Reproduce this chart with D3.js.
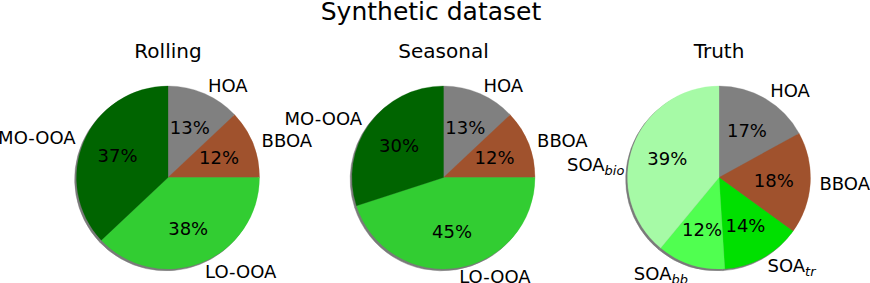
<!DOCTYPE html>
<html>
<head>
<meta charset="utf-8">
<script src="https://cdn.jsdelivr.net/npm/d3@7"></script>
<style>
  html, body { margin: 0; padding: 0; background: #fff; }
  svg { display: block; font-family: "DejaVu Sans", sans-serif; }
</style>
</head>
<body>
<svg id="chart" width="870" height="283"></svg>
<script>
const figTitle = "Synthetic dataset";
const pieTitles = ["Rolling", "Seasonal", "Truth"];

const rollingLabels = ["HOA", "BBOA", "LO-OOA", "MO-OOA"];
const rollingValues = [13, 12, 38, 37];
const seasonalLabels = ["HOA", "BBOA", "LO-OOA", "MO-OOA"];
const seasonalValues = [13, 12, 45, 30];
const truthLabels = ["HOA", "BBOA", "SOA_tr", "SOA_bb", "SOA_bio"];
const truthValues = [17, 18, 14, 12, 39];

const factorColors = {
  "HOA": "#808080",
  "BBOA": "#a0522d",
  "LO-OOA": "#32cd32",
  "MO-OOA": "#006400",
  "SOA_tr": "#00e000",
  "SOA_bb": "#50ff50",
  "SOA_bio": "#a6faa6"
};

const panels = [
  { title: pieTitles[0], labels: rollingLabels, values: rollingValues },
  { title: pieTitles[1], labels: seasonalLabels, values: seasonalValues },
  { title: pieTitles[2], labels: truthLabels, values: truthValues }
];

const svg = d3.select("#chart");
const R = 91.5;
const cy = 177.5;
const cxScale = d3.scalePoint().domain(d3.range(panels.length)).range([168, 719]);
const labelFont = 18;

svg.append("text")
  .attr("x", 431).attr("y", 19.5)
  .attr("text-anchor", "middle")
  .attr("font-size", 25)
  .attr("fill", "#000")
  .text(figTitle);

const pie = d3.pie().sort(null).startAngle(0).endAngle(2 * Math.PI).value(d => d.v);
const arc = d3.arc().innerRadius(0).outerRadius(R);

function addLabel(g, name, x, y, anchor) {
  const t = g.append("text")
    .attr("x", x).attr("y", y)
    .attr("dy", "0.36em")
    .attr("text-anchor", anchor)
    .attr("font-size", labelFont)
    .attr("fill", "#000");
  const parts = name.split("_");
  t.append("tspan").text(parts[0]);
  if (parts.length > 1) {
    t.append("tspan")
      .attr("font-size", labelFont * 0.72)
      .attr("font-style", "italic")
      .attr("dy", "0.3em")
      .text(parts[1]);
  }
}

panels.forEach((p, i) => {
  const cx = cxScale(i);
  const data = p.labels.map((l, j) => ({ l, v: p.values[j] }));
  const arcs = pie(data);
  const total = d3.sum(p.values);

  svg.append("text")
    .attr("x", cx).attr("y", 57.5)
    .attr("text-anchor", "middle")
    .attr("font-size", 20)
    .attr("fill", "#000")
    .text(p.title);

  const g = svg.append("g").attr("transform", `translate(${cx},${cy})`);

  // shadow
  g.append("g").attr("transform", "translate(-1.8,1.8)")
    .selectAll("path").data(arcs).join("path")
    .attr("d", arc)
    .attr("fill", "#7a7a7a")
    .attr("stroke", "#7a7a7a")
    .attr("stroke-width", 0.5);

  g.append("g").selectAll("path").data(arcs).join("path")
    .attr("d", arc)
    .attr("fill", d => factorColors[d.data.l])
    .attr("stroke", d => factorColors[d.data.l])
    .attr("stroke-width", 0.3);

  arcs.forEach(a => {
    const mid = (a.startAngle + a.endAngle) / 2;
    const sx = Math.sin(mid), sy = -Math.cos(mid);
    // outside label (the biogenic SOA label sits lower in the original, clear of its neighbour)
    const lx = sx * R * 1.1;
    const ly = sy * R * 1.1 + (a.data.l === "SOA_bio" ? 21.5 : 0);
    addLabel(g, a.data.l, lx, ly, lx > 0 ? "start" : "end");
    // percentage
    g.append("text")
      .attr("x", sx * R * 0.6).attr("y", sy * R * 0.6)
      .attr("dy", "0.36em")
      .attr("text-anchor", "middle")
      .attr("font-size", labelFont)
      .attr("fill", "#000")
      .text(d3.format(".0f")(a.data.v / total * 100) + "%");
  });
});
</script>
</body>
</html>
